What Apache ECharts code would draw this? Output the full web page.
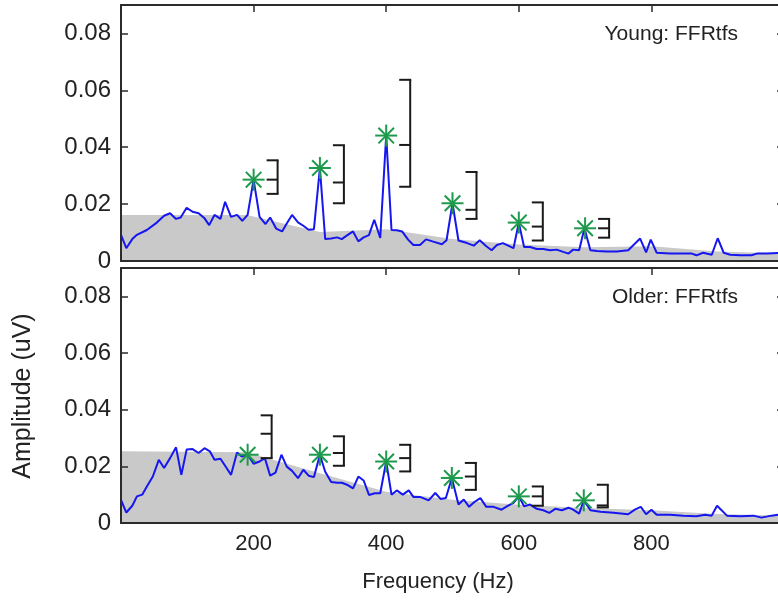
<!DOCTYPE html>
<html>
<head>
<meta charset="utf-8">
<script src="https://cdn.jsdelivr.net/npm/echarts@6/dist/echarts.min.js"></script>
<style>
  html, body { margin: 0; padding: 0; background: #fff; }
  #chart { width: 778px; height: 607px; }
</style>
</head>
<body>
<div id="chart"></div>
<script>
// Spectrum of the young group (frequency in Hz, amplitude in uV)
const youngFreq = [0, 8, 17, 24, 39, 54, 65, 74, 83, 90, 99, 108, 117, 126, 133, 141, 150, 157, 166, 175, 183, 191,
  200, 209, 218, 225, 234, 243, 250, 258, 267, 275, 283, 291,
  300, 308, 317, 326, 333, 341, 350, 358, 366, 374, 382, 391,
  400, 408, 416, 424, 433, 441, 451, 460, 471, 484, 491,
  500, 509, 522, 532, 541, 551, 559, 567, 576, 584, 592,
  600, 608, 617, 627, 637, 647, 657, 667, 675, 682, 691,
  699, 708, 718, 733, 748, 765, 783, 792, 799, 808, 828, 843, 861, 868, 878, 891,
  900, 909, 919, 934, 951, 959, 974, 991, 1000];
const youngAmp = [0.0092, 0.0045, 0.0077, 0.0092, 0.0109, 0.0135, 0.0159, 0.0168, 0.0148, 0.0153, 0.0187, 0.0173, 0.0168, 0.0150, 0.0126, 0.0162, 0.0148, 0.0208, 0.0155, 0.0162, 0.0141, 0.0162,
  0.0286, 0.0155, 0.0130, 0.0153, 0.0114, 0.0104, 0.0132, 0.0162, 0.0136, 0.0124, 0.0110, 0.0112,
  0.0327, 0.0077, 0.0079, 0.0083, 0.0077, 0.0090, 0.0104, 0.0069, 0.0083, 0.0091, 0.0145, 0.0081,
  0.0441, 0.0109, 0.0108, 0.0104, 0.0075, 0.0056, 0.0056, 0.0076, 0.0068, 0.0059, 0.0073,
  0.0203, 0.0072, 0.0063, 0.0054, 0.0073, 0.0052, 0.0038, 0.0056, 0.0063, 0.0054, 0.0045,
  0.0135, 0.0049, 0.0049, 0.0042, 0.0042, 0.0038, 0.0040, 0.0032, 0.0026, 0.0040, 0.0038,
  0.0115, 0.0038, 0.0035, 0.0033, 0.0033, 0.0038, 0.0079, 0.0030, 0.0075, 0.0029, 0.0026, 0.0026, 0.0026, 0.0020, 0.0029, 0.0022,
  0.0080, 0.0029, 0.0022, 0.0020, 0.0020, 0.0026, 0.0026, 0.0028, 0.0028];

// Spectrum of the older group
const olderFreq = [0, 8, 17, 24, 32, 39, 48, 57, 65, 74, 83, 91, 99, 108, 117, 126, 134, 141, 150, 157, 166, 175, 182,
  191, 200, 209, 217, 225, 233, 242, 250, 258, 267, 275, 283, 291,
  300, 308, 317, 326, 333, 342, 350, 358, 366, 374, 383, 391,
  400, 408, 416, 425, 434, 441, 451, 464, 474, 482, 490,
  499, 509, 517, 525, 533, 542, 551, 562, 574, 584, 592,
  600, 608, 617, 627, 637, 646, 655, 665, 675, 682, 691,
  698, 708, 723, 743, 765, 775, 784, 792, 800, 808, 828, 848, 868, 881, 891,
  899, 914, 934, 954, 966, 981, 991, 1000];
const olderAmp = [0.0082, 0.0037, 0.0061, 0.0094, 0.0100, 0.0129, 0.0164, 0.0223, 0.0194, 0.0229, 0.0267, 0.0170, 0.0259, 0.0261, 0.0247, 0.0264, 0.0253, 0.0223, 0.0227, 0.0202, 0.0170, 0.0249, 0.0235,
  0.0241, 0.0209, 0.0217, 0.0229, 0.0167, 0.0178, 0.0241, 0.0199, 0.0184, 0.0158, 0.0188, 0.0167, 0.0162,
  0.0241, 0.0181, 0.0145, 0.0142, 0.0142, 0.0134, 0.0122, 0.0164, 0.0150, 0.0099, 0.0105, 0.0105,
  0.0217, 0.0100, 0.0115, 0.0100, 0.0115, 0.0092, 0.0092, 0.0080, 0.0106, 0.0085, 0.0088,
  0.0159, 0.0065, 0.0083, 0.0057, 0.0074, 0.0088, 0.0057, 0.0057, 0.0047, 0.0061, 0.0071,
  0.0094, 0.0059, 0.0065, 0.0050, 0.0045, 0.0036, 0.0050, 0.0045, 0.0054, 0.0047, 0.0033,
  0.0080, 0.0045, 0.0040, 0.0036, 0.0031, 0.0047, 0.0057, 0.0031, 0.0047, 0.0029, 0.0029, 0.0026, 0.0024, 0.0029, 0.0026,
  0.0061, 0.0026, 0.0024, 0.0026, 0.0019, 0.0026, 0.0029, 0.0029];

// Noise floor (shaded region)
const noiseFreq  = [0, 190, 300, 400, 500, 600, 700, 800, 900, 1000];
const noiseYoung = [0.0162, 0.0162, 0.0102, 0.0112, 0.0077, 0.0058, 0.0048, 0.0052, 0.0033, 0.0027];
const noiseOlder = [0.0253, 0.0250, 0.0176, 0.0110, 0.0082, 0.0064, 0.0053, 0.0045, 0.0032, 0.0026];

// Harmonic peaks (asterisks)
const youngPeakFreq = [200, 300, 400, 500, 600, 700];
const youngPeakAmp  = [0.0286, 0.0327, 0.0441, 0.0203, 0.0135, 0.0115];
const olderPeakFreq = [191, 300, 400, 499, 600, 698];
const olderPeakAmp  = [0.0241, 0.0241, 0.0217, 0.0159, 0.0094, 0.0080];

// Bracket ranges beside each peak: low, middle, high
const youngLow  = [0.0236, 0.0203, 0.0261, 0.0148, 0.0072, 0.0082];
const youngMid  = [0.0286, 0.0276, 0.0408, 0.0180, 0.0121, 0.0115];
const youngHigh = [0.0354, 0.0407, 0.0637, 0.0313, 0.0206, 0.0148];
const olderLow  = [0.0229, 0.0202, 0.0182, 0.0117, 0.0061, 0.0055];
const olderMid  = [0.0315, 0.0247, 0.0229, 0.0164, 0.0094, 0.0062];
const olderHigh = [0.0380, 0.0306, 0.0276, 0.0212, 0.0129, 0.0135];

// Axis ticks
const freqTicks = [200, 400, 600, 800];
const ampMax = 0.09;
const ampStep = 0.02;
const freqMax = 1000;
const freqStep = 200;

const FONT = 'Liberation Sans, Arial, Helvetica, sans-serif';
const AXIS_COLOR = '#2b2b2b';
const LINE_BLUE = '#1616f0';
const GRAY = '#c9c9c9';
const GREEN = '#1e9a4c';
const TEXT = '#222';

const zip = (a, b) => a.map((v, i) => [v, b[i]]);

// box outline drawn by each axis, kept at its own side of the grid
const boxLine = { show: true, onZero: false, lineStyle: { color: AXIS_COLOR, width: 2 } };
// ticks pointing into the plot area
const innerTick = () => ({ show: true, inside: true, length: 7, lineStyle: { color: AXIS_COLOR, width: 1.5 } });

function xAxes(gridIndex, showLabels) {
  const common = {
    type: 'value', gridIndex, min: 0, max: freqMax, interval: freqStep, z: 10,
    axisLine: boxLine,
    splitLine: { show: false }
  };
  return [
    Object.assign({}, common, {
      position: 'bottom',
      axisTick: { show: false },
      axisLabel: {
        show: showLabels, margin: 10, color: TEXT, fontFamily: FONT, fontSize: 22,
        showMinLabel: false, showMaxLabel: false,
        formatter: v => freqTicks.includes(v) ? String(v) : ''
      }
    }),
    Object.assign({}, common, { position: 'top', axisTick: innerTick(), axisLabel: { show: false } })
  ];
}

function yAxes(gridIndex) {
  const common = {
    type: 'value', gridIndex, min: 0, max: ampMax, interval: ampStep, z: 10,
    axisLine: boxLine,
    splitLine: { show: false }
  };
  return [
    Object.assign({}, common, {
      position: 'left',
      axisTick: innerTick(),
      axisLabel: {
        show: true, margin: 10, color: TEXT, fontFamily: FONT, fontSize: 24,
        showMaxLabel: false,
        formatter: v => (v === 0 ? '0' : v.toFixed(2))
      }
    }),
    Object.assign({}, common, { position: 'right', axisTick: innerTick(), axisLabel: { show: false } })
  ];
}

function spectrumSeries(xi, yi, freq, amp, noise) {
  return [
    {
      type: 'line', xAxisIndex: xi, yAxisIndex: yi, z: 1,
      data: zip(noiseFreq, noise), symbol: 'none', silent: true,
      lineStyle: { width: 0 }, areaStyle: { color: GRAY, opacity: 1 }
    },
    {
      type: 'line', xAxisIndex: xi, yAxisIndex: yi, z: 2,
      data: zip(freq, amp), symbol: 'none',
      lineStyle: { color: LINE_BLUE, width: 2 }
    }
  ];
}

function asteriskSeries(xi, yi, freq, amp) {
  return {
    type: 'custom', xAxisIndex: xi, yAxisIndex: yi, z: 4,
    data: zip(freq, amp),
    renderItem: (params, api) => {
      const p = api.coord([api.value(0), api.value(1)]);
      const r = 11, d = r * Math.SQRT1_2;
      const seg = (dx, dy) => ({
        type: 'line',
        shape: { x1: p[0] - dx, y1: p[1] - dy, x2: p[0] + dx, y2: p[1] + dy },
        style: { stroke: GREEN, lineWidth: 2 }
      });
      return { type: 'group', children: [seg(r, 0), seg(0, r), seg(d, d), seg(d, -d)] };
    }
  };
}

function bracketSeries(xi, yi, freq, low, mid, high) {
  return {
    type: 'custom', xAxisIndex: xi, yAxisIndex: yi, z: 4,
    data: freq.map((f, i) => [f, low[i], mid[i], high[i]]),
    renderItem: (params, api) => {
      const f = api.value(0);
      const pLow = api.coord([f, api.value(1)]);
      const pMid = api.coord([f, api.value(2)]);
      const pHigh = api.coord([f, api.value(3)]);
      const x = pLow[0] + 24, w = 11;
      const st = { stroke: '#1a1a1a', lineWidth: 2 };
      const ln = (x1, y1, x2, y2) => ({ type: 'line', shape: { x1, y1, x2, y2 }, style: st });
      return {
        type: 'group',
        children: [
          ln(x, pHigh[1], x, pLow[1]),
          ln(x - w, pHigh[1], x + 1, pHigh[1]),
          ln(x - w, pMid[1], x, pMid[1]),
          ln(x - w, pLow[1], x + 1, pLow[1])
        ]
      };
    }
  };
}

const chart = echarts.init(document.getElementById('chart'), null, { renderer: 'canvas' });
chart.setOption({
  backgroundColor: '#fff',
  animation: false,
  // the frame runs a few pixels past the right edge of the page
  grid: [
    { left: 121, width: 663, top: 5, height: 256, outerBoundsMode: 'none', containLabel: false },
    { left: 121, width: 663, top: 268, height: 255, outerBoundsMode: 'none', containLabel: false }
  ],
  xAxis: [...xAxes(0, false), ...xAxes(1, true)],
  yAxis: [...yAxes(0), ...yAxes(1)],
  graphic: [
    { type: 'text', right: 40, top: 24, z: 20,
      style: { text: 'Young: FFRtfs', font: '21px ' + FONT, fill: TEXT } },
    { type: 'text', right: 40, top: 287, z: 20,
      style: { text: 'Older: FFRtfs', font: '21px ' + FONT, fill: TEXT } },
    { type: 'text', x: 23, y: 396, rotation: Math.PI / 2, z: 20,
      style: { text: 'Amplitude (uV)', font: '25px ' + FONT, fill: TEXT,
               textAlign: 'center', textVerticalAlign: 'middle' } },
    { type: 'text', x: 438, y: 582, z: 20,
      style: { text: 'Frequency (Hz)', font: '22px ' + FONT, fill: TEXT,
               textAlign: 'center', textVerticalAlign: 'middle' } }
  ],
  series: [
    ...spectrumSeries(0, 0, youngFreq, youngAmp, noiseYoung),
    asteriskSeries(0, 0, youngPeakFreq, youngPeakAmp),
    bracketSeries(0, 0, youngPeakFreq, youngLow, youngMid, youngHigh),
    ...spectrumSeries(2, 2, olderFreq, olderAmp, noiseOlder),
    asteriskSeries(2, 2, olderPeakFreq, olderPeakAmp),
    bracketSeries(2, 2, olderPeakFreq, olderLow, olderMid, olderHigh)
  ]
});
</script>
</body>
</html>
